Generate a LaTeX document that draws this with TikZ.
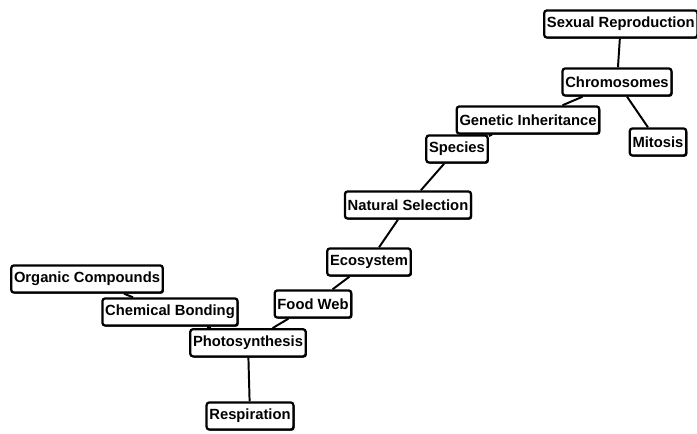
\documentclass[tikz,border=0pt]{standalone}
\usepackage{fontspec}
\setmainfont{Liberation Sans}
\usepackage{tikz}
\usetikzlibrary{shadows}

\begin{document}
\begin{tikzpicture}[
  concept/.style={draw=black,line width=1.6pt,fill=white,rounded corners=2pt,
    font=\bfseries\fontsize{10.5}{12}\selectfont,inner xsep=2pt,inner ysep=0pt,
    minimum height=0.68cm,
    drop shadow={shadow xshift=0.8pt,shadow yshift=-0.8pt,fill=black,opacity=1}},
  link/.style={line width=1.4pt}]
  \useasboundingbox (0,0) rectangle (17.425,10.85);
  \node[concept] (sexrep)   at (15.52,10.25)  {Sexual Reproduction};
  \node[concept] (chromo)   at (15.425,8.8) {Chromosomes};
  \node[concept] (genetic)  at (13.2,7.85)   {Genetic Inheritance};
  \node[concept] (mitosis)  at (16.45,7.3) {Mitosis};
  \node[concept] (species)  at (11.425,7.125) {Species};
  \node[concept] (natsel)   at (10.2,5.725)  {Natural Selection};
  \node[concept] (eco)      at (9.225,4.3)   {Ecosystem};
  \node[concept] (foodweb)  at (7.825,3.25) {Food Web};
  \node[concept] (photo)    at (6.2,2.28)     {Photosynthesis};
  \node[concept] (resp)     at (6.25,0.45)   {Respiration};
  \node[concept] (organic)  at (2.175,3.875) {Organic Compounds};
  \node[concept] (chembond) at (4.25,3.05)   {Chemical Bonding};
  \draw[link] (sexrep) -- (chromo);
  \draw[link] (chromo) -- (genetic);
  \draw[link] (chromo) -- (mitosis);
  \draw[link] (genetic) -- (species);
  \draw[link] (species) -- (natsel);
  \draw[link] (natsel) -- (eco);
  \draw[link] (eco) -- (foodweb);
  \draw[link] (foodweb) -- (photo);
  \draw[link] (photo) -- (chembond);
  \draw[link] (chembond) -- (organic);
  \draw[link] (photo) -- (resp);
\end{tikzpicture}
\end{document}
